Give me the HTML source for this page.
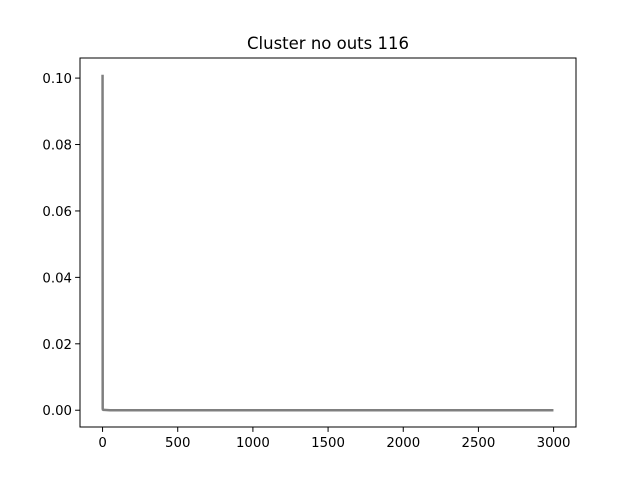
<!DOCTYPE html>
<html><head><meta charset="utf-8"><style>
body{margin:0;background:#fff;}
svg text{font-family:"DejaVu Sans","Liberation Sans",sans-serif;}
</style></head><body>
<svg id="chart" width="640" height="480" xmlns="http://www.w3.org/2000/svg">
<rect width="640" height="480" fill="#fff"/>
<text x="328" y="49" font-size="16.5" text-anchor="middle">Cluster no outs 116</text>
<g id="series"></g>
<g id="axes"></g>
<rect x="80" y="58" width="496" height="369" fill="none" stroke="#000" stroke-width="1"/>
</svg>
<script>
const seriesX = [0, 1, 2, 5, 10, 50, 1239, 1240, 1241, 2999];
const seriesY = [0.101, 0.0005, 0.0002, 0.0001, 0.0001, 0.0, 0.0, 0.0003, 0.0, 0.0];
const xTicks = [0, 500, 1000, 1500, 2000, 2500, 3000];
const yTicks = [0.00, 0.02, 0.04, 0.06, 0.08, 0.10];
const xMin = -150, xMax = 3149, yMin = -0.00505, yMax = 0.10605;
const L = 80, R = 576, T = 58, B = 427;
const sx = v => L + (v - xMin) / (xMax - xMin) * (R - L);
const sy = v => B - (v - yMin) / (yMax - yMin) * (B - T);
const NS = "http://www.w3.org/2000/svg";
const sg = document.getElementById('series');
const ag = document.getElementById('axes');
const path = document.createElementNS(NS, 'path');


path.setAttribute('d', seriesX.map((x, i) => (i ? 'L' : 'M') + sx(x).toFixed(2) + ' ' + sy(seriesY[i]).toFixed(2)).join(' '));
path.setAttribute('fill', 'none');
path.setAttribute('stroke', '#7f7f7f');
path.setAttribute('stroke-width', '2.5');
sg.appendChild(path);
xTicks.forEach(t => {
  const x = sx(t);
  const ln = document.createElementNS(NS, 'line');
  
  
  ln.setAttribute('x1', x); ln.setAttribute('x2', x);
  ln.setAttribute('y1', B); ln.setAttribute('y2', B + 4.9);
  ln.setAttribute('stroke', '#000');
  ag.appendChild(ln);
  const tx = document.createElementNS(NS, 'text');
  
  
  tx.setAttribute('x', x); tx.setAttribute('y', B + 20);
  tx.setAttribute('font-size', '13.3');
  tx.setAttribute('text-anchor', 'middle');
  tx.textContent = t;
  ag.appendChild(tx);
});
yTicks.forEach(t => {
  const y = sy(t);
  const ln = document.createElementNS(NS, 'line');
  
  
  ln.setAttribute('x1', L - 4.9); ln.setAttribute('x2', L);
  ln.setAttribute('y1', y); ln.setAttribute('y2', y);
  ln.setAttribute('stroke', '#000');
  ag.appendChild(ln);
  const tx = document.createElementNS(NS, 'text');
  
  
  tx.setAttribute('x', L - 8); tx.setAttribute('y', y + 5);
  tx.setAttribute('font-size', '13.3');
  tx.setAttribute('text-anchor', 'end');
  tx.textContent = t.toFixed(2);
  ag.appendChild(tx);
});
</script>
</body></html>
